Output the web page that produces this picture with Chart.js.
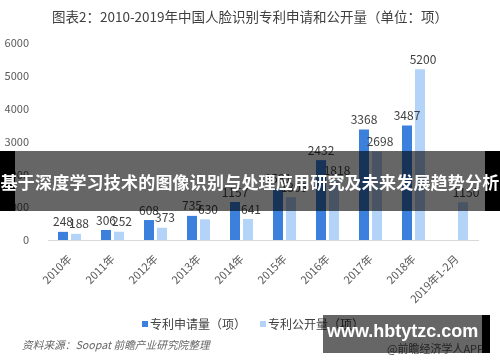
<!DOCTYPE html>
<html>
<head>
<meta charset="utf-8">
<script src="https://cdn.jsdelivr.net/npm/chart.js@4/dist/chart.umd.min.js"></script>
<style>
  html, body { margin: 0; padding: 0; background: #fff; }
  #wrap { position: relative; width: 500px; height: 362px; overflow: hidden; font-family: "Noto Sans CJK SC", "Noto Sans", sans-serif; }
  canvas { position: absolute; left: 0; top: 0; }
  .abs { position: absolute; white-space: nowrap; }
  #title { left: 0; top: 5px; width: 500px; text-align: center; font-size: 13.5px; line-height: 22px; color: #404040; }
  #legend { left: 0; top: 316px; width: 500px; height: 16px; font-size: 12px; line-height: 16px; color: #404040; }
  .sw { position: absolute; top: 5px; width: 6px; height: 6px; }
  #source { left: 22px; top: 338px; font-size: 10.7px; line-height: 14px; color: #666; font-style: italic; }
  #app { left: 387px; top: 341px; font-size: 11px; line-height: 14px; color: #595959; }
  #wmbox { left: 323px; top: 315px; width: 159px; height: 38px; background: rgba(0,0,0,0.6); }
  #wmblack { left: 482px; top: 315px; width: 8px; height: 38px; background: #000; }
  #wmtext { left: 327px; top: 320px; font-family: "Liberation Sans", Arial, sans-serif; font-weight: bold; font-size: 18px; line-height: 22px; color: #fff; }
  #banner { left: 0; top: 151px; width: 500px; height: 60px; background: rgba(0,0,0,0.6); }
  #bl { left: 0; top: 151px; width: 15px; height: 60px; background: #000; }
  #br { left: 485px; top: 151px; width: 15px; height: 60px; background: #000; }
  #btext { left: -20px; top: 151px; width: 540px; height: 60px; line-height: 62px; text-align: center; font-size: 17px; font-weight: bold; color: #fff; letter-spacing: 0.2px; }
</style>
</head>
<body>
<div id="wrap">
  <canvas id="c" width="500" height="362"></canvas>
  <div id="title" class="abs">图表2：2010-2019年中国人脸识别专利申请和公开量（单位：项）</div>
  <div id="legend" class="abs">
    <span class="sw" style="left:142px;background:#3b80dd"></span>
    <span class="abs" style="left:150px;top:0">专利申请量（项）</span>
    <span class="sw" style="left:260px;background:#b4d3f8"></span>
    <span class="abs" style="left:268px;top:0">专利公开量（项）</span>
  </div>
  <div id="source" class="abs">资料来源：Soopat 前瞻产业研究院整理</div>
  <div id="app" class="abs">@前瞻经济学人APP</div>
  <div id="wmbox" class="abs"></div>
  <div id="wmblack" class="abs"></div>
  <div id="wmtext" class="abs">www.hbtytzc.com</div>
  <div id="banner" class="abs"></div>
  <div id="bl" class="abs"></div>
  <div id="br" class="abs"></div>
  <div id="btext" class="abs">基于深度学习技术的图像识别与处理应用研究及未来发展趋势分析</div>
</div>
<script>
const categories = ["2010年", "2011年", "2012年", "2013年", "2014年", "2015年", "2016年", "2017年", "2018年", "2019年1-2月"];
const applications = [248, 306, 608, 735, 1157, 1581, 2432, 3368, 3487, null];
const publications = [188, 252, 373, 630, 641, 1303, 1818, 2698, 5200, 1150];
const seriesNames = ["专利申请量（项）", "专利公开量（项）"];
const yTicks = [0, 1000, 2000, 3000, 4000, 5000, 6000];

const FONT = '"Noto Sans CJK SC", "Noto Sans", sans-serif';

const labelPlugin = {
  id: 'barLabels',
  afterDatasetsDraw(chart) {
    const ctx = chart.ctx;
    ctx.save();
    ctx.font = '12px ' + FONT;
    ctx.fillStyle = '#404040';
    ctx.textAlign = 'center';
    ctx.textBaseline = 'bottom';
    chart.data.datasets.forEach((ds, di) => {
      const meta = chart.getDatasetMeta(di);
      const dx = di === 1 ? 3 : 0;
      meta.data.forEach((bar, i) => {
        const v = ds.data[i];
        if (v === null || v === undefined) return;
        ctx.fillText(String(v), bar.x + dx, bar.y - 4);
      });
    });
    ctx.restore();
  }
};

new Chart(document.getElementById('c'), {
  type: 'bar',
  data: {
    labels: categories,
    datasets: [
      { label: seriesNames[0], data: applications, backgroundColor: '#3b80dd', categoryPercentage: 0.605, barPercentage: 0.77 },
      { label: seriesNames[1], data: publications, backgroundColor: '#b4d3f8', categoryPercentage: 0.605, barPercentage: 0.77 }
    ]
  },
  options: {
    responsive: false,
    animation: false,
    devicePixelRatio: 1,
    layout: { padding: { top: 43, right: 22, bottom: 0, left: 0 } },
    plugins: { legend: { display: false }, title: { display: false }, tooltip: { enabled: false } },
    scales: {
      x: {
        grid: { display: false },
        border: { display: true, color: '#d9d9d9', width: 1 },
        ticks: { color: '#595959', font: { family: FONT, size: 11 }, minRotation: 45, maxRotation: 45, padding: 4 },
        afterFit(scale) { scale.height = 122; }
      },
      y: {
        min: 0, max: 6000,
        grid: { display: false },
        border: { display: false },
        afterBuildTicks(scale) { scale.ticks = yTicks.map(v => ({ value: v })); },
        ticks: { color: '#595959', font: { family: FONT, size: 11 }, padding: 11, callback: v => String(v) },
        afterFit(scale) { scale.width = 48; }
      }
    }
  },
  plugins: [labelPlugin]
});
</script>
</body>
</html>
